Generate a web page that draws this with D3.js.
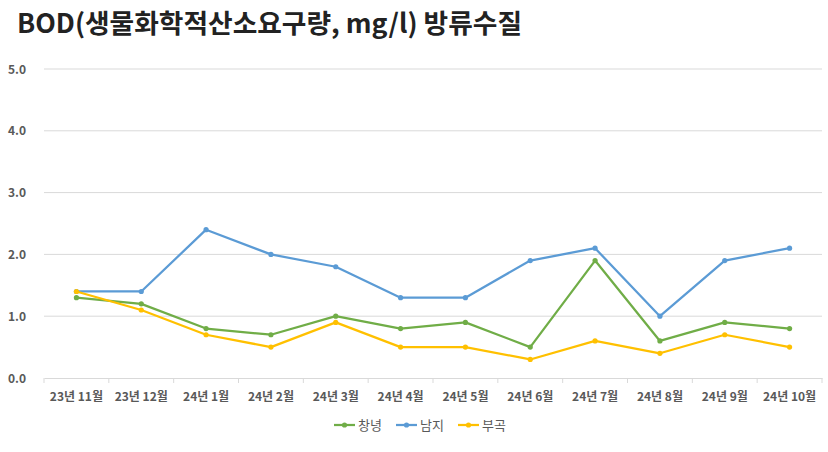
<!DOCTYPE html>
<html><head><meta charset="utf-8">
<script src="https://cdn.jsdelivr.net/npm/d3@7"></script>
<style>body{margin:0;background:#fff;}svg{display:block;}</style>
</head><body>
<svg id="c" width="828" height="452"></svg>
<script>
const categories = ["23년 11월","23년 12월","24년 1월","24년 2월","24년 3월","24년 4월","24년 5월","24년 6월","24년 7월","24년 8월","24년 9월","24년 10월"];
const seriesNames = ["창녕","남지","부곡"];
const changnyeong = [1.3,1.2,0.8,0.7,1.0,0.8,0.9,0.5,1.9,0.6,0.9,0.8];
const namji = [1.4,1.4,2.4,2.0,1.8,1.3,1.3,1.9,2.1,1.0,1.9,2.1];
const bugok = [1.4,1.1,0.7,0.5,0.9,0.5,0.5,0.3,0.6,0.4,0.7,0.5];
const yTicks = [0,1,2,3,4,5];
const colors = ["#70ad47","#5b9bd5","#ffc000"];

const svg = d3.select("#c");
const m = {l:44, r:822, t:69, b:378};
const x = d3.scaleBand().domain(categories).range([m.l, m.r]);
const y = d3.scaleLinear().domain([0,5]).range([m.b, m.t]);
const font = "'Noto Sans CJK KR','Noto Sans',sans-serif";

svg.append("text").attr("x",17).attr("y",33).attr("font-family",font).attr("font-weight","bold")
  .attr("font-size",26.5).attr("fill","#222").attr("textLength",505).attr("lengthAdjust","spacingAndGlyphs")
  .text("BOD(생물화학적산소요구량, mg/l) 방류수질");

// grid
svg.append("g").selectAll("line").data(yTicks.filter(d=>d>0)).join("line")
  .attr("x1",m.l).attr("x2",m.r).attr("y1",d=>y(d)).attr("y2",d=>y(d))
  .attr("stroke","#d9d9d9").attr("stroke-width",1);
svg.append("g").selectAll("text").data(yTicks).join("text")
  .attr("x",26).attr("y",d=>y(d)+4.5).attr("text-anchor","end")
  .attr("font-family",font).attr("font-weight","bold").attr("font-size",12).attr("fill","#595959")
  .text(d=>d.toFixed(1));

// x axis
const xa = svg.append("g").attr("transform",`translate(0,${m.b})`)
  .call(d3.axisBottom(x).tickSize(0).tickPadding(14));
xa.select(".domain").attr("stroke","#d9d9d9");
xa.selectAll("text").attr("font-family",font).attr("font-weight","bold").attr("font-size",12).attr("fill","#595959");
const bounds = categories.map(c=>x(c)).concat([m.r]);
svg.append("g").selectAll("line").data(bounds).join("line")
  .attr("x1",d=>d).attr("x2",d=>d).attr("y1",m.b).attr("y2",m.b+5).attr("stroke","#d9d9d9");

const data = [changnyeong, namji, bugok];
const line = d3.line().x((d,i)=>x(categories[i])+x.bandwidth()/2).y(d=>y(d));
data.forEach((s,k)=>{
  const g = svg.append("g");
  g.append("path").datum(s).attr("d",line).attr("fill","none").attr("stroke",colors[k])
    .attr("stroke-width",2.25).attr("stroke-linejoin","round").attr("stroke-linecap","round");
  g.selectAll("circle").data(s).join("circle")
    .attr("cx",(d,i)=>x(categories[i])+x.bandwidth()/2).attr("cy",d=>y(d)).attr("r",2.6).attr("fill",colors[k]);
});

// legend
const lx = [334,396,458];
seriesNames.forEach((n,k)=>{
  const g = svg.append("g");
  g.append("line").attr("x1",lx[k]).attr("x2",lx[k]+21).attr("y1",425).attr("y2",425).attr("stroke",colors[k]).attr("stroke-width",2.25);
  g.append("circle").attr("cx",lx[k]+10.5).attr("cy",425).attr("r",2.6).attr("fill",colors[k]);
  g.append("text").attr("x",lx[k]+24).attr("y",430).attr("font-family",font).attr("font-size",13)
    .attr("fill","#595959").text(n);
});
</script>
</body></html>
